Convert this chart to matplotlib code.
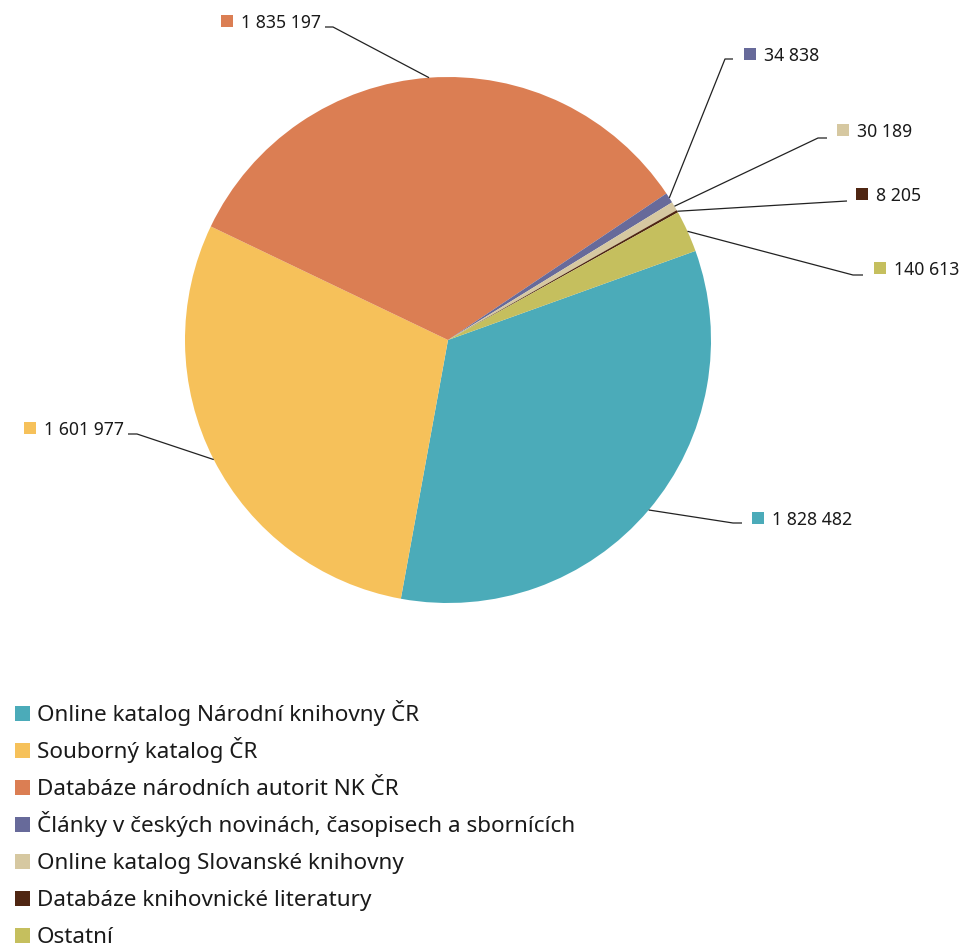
import matplotlib
matplotlib.use("Agg")
import matplotlib.pyplot as plt
from matplotlib.patches import Rectangle
import numpy as np

categories = [
    "Online katalog Národní knihovny ČR",
    "Souborný katalog ČR",
    "Databáze národních autorit NK ČR",
    "Články v českých novinách, časopisech a sbornících",
    "Online katalog Slovanské knihovny",
    "Databáze knihovnické literatury",
    "Ostatní",
]
values = [1828482, 1601977, 1835197, 34838, 30189, 8205, 140613]
value_labels = ["1 828 482", "1 601 977", "1 835 197", "34 838", "30 189", "8 205", "140 613"]
colors = ["#4BABB9", "#F6C15A", "#DB7E53", "#676A9A", "#D6C8A1", "#4F2612", "#C5BF5E"]

W, H = 962, 947
plt.rcParams['font.family'] = ['Noto Sans', 'DejaVu Sans']

fig = plt.figure(figsize=(W / 100, H / 100), dpi=100)
ax = fig.add_axes([0, 0, 1, 1])
ax.set_xlim(0, W)
ax.set_ylim(0, H)
ax.set_aspect('equal')
ax.axis('off')

def Y(y_img):
    return H - y_img

cx, cy, R = 448, Y(340), 263
wedges, _ = ax.pie(values, colors=colors, startangle=19.8, counterclock=False,
                   center=(cx, cy), radius=R, frame=True,
                   wedgeprops=dict(linewidth=0))
ax.set_xlim(0, W)
ax.set_ylim(0, H)
ax.axis('off')

# label layout: (marker_x, text_y, elbow_x, line_y, end_x) in image px
layout = [
    (752, 518, 733, 523, 742),
    (24, 428, 137, 434, 128),
    (221, 21, 333, 27, 325),
    (744, 54, 725, 59, 733),
    (837, 130, 818, 138, 827),
    (856, 194, 847, 201, 847),
    (874, 268, 853, 275, 863),
]
lab_fs = 12.7
for w, lab, col, (mx, ty, ex, ly, ex2) in zip(wedges, value_labels, colors, layout):
    mid = np.deg2rad((w.theta1 + w.theta2) / 2)
    px, py = cx + R * np.cos(mid), cy + R * np.sin(mid)
    ax.plot([px, ex, ex2], [py, Y(ly), Y(ly)], color="#222222", lw=0.9,
            solid_capstyle='butt')
    ax.add_patch(Rectangle((mx, Y(ty) - 6), 12, 12, color=col, lw=0))
    ax.text(mx + 20, Y(ty) - 6.5, lab, fontsize=lab_fs, va='baseline', ha='left',
            color="#1a1a1a")

# legend
leg_y0, leg_dy = 713, 37.1
for i, (cat, col) in enumerate(zip(categories, colors)):
    yy = Y(leg_y0 + i * leg_dy)
    ax.add_patch(Rectangle((15, yy - 7.5), 15, 15, color=col, lw=0))
    ax.text(37, yy - 7.5, cat, fontsize=16.2, va='baseline', ha='left', color="#1a1a1a")

fig.savefig("out.png", dpi=100, facecolor="white")
